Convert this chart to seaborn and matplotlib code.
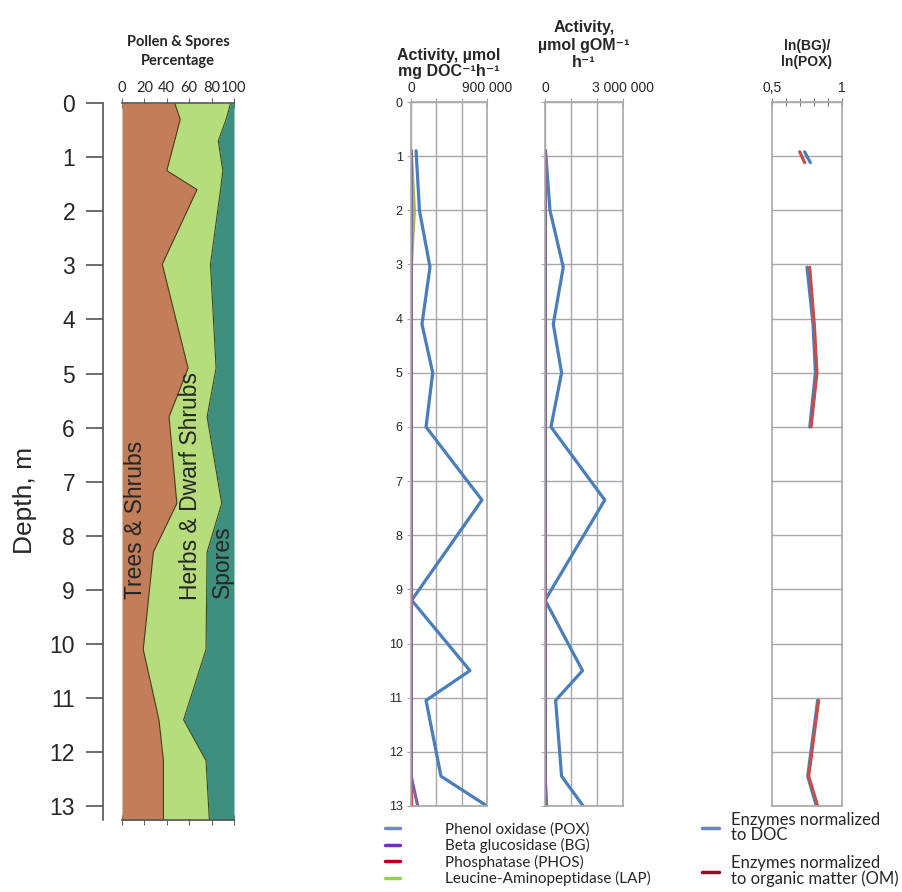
import numpy as np
import pandas as pd
import matplotlib
matplotlib.use("Agg")
import matplotlib.pyplot as plt
from matplotlib.lines import Line2D
import seaborn as sns

# ─────────────────────────────────────────
# DATA
# ─────────────────────────────────────────
# pollen diagram, percent per group
pollen_depth = [0, 0.3, 0.7, 1.25, 1.6, 2.98, 4.9, 5.8, 7.4, 8.3, 10.1, 11.4, 12.15, 13.25]
trees_pct    = [47, 52, 47, 40, 67, 36, 59, 42, 49, 28, 19, 33, 37, 37]
herbs_pct    = [50, 41, 39, 50, 21, 43, 25, 34, 40, 48, 56, 22, 38, 41]
spores_pct   = [3, 7, 14, 10, 12, 21, 16, 24, 11, 24, 25, 45, 25, 22]

# enzyme activities
enz_depth = [0.9, 2.0, 3.05, 4.1, 5.0, 6.0, 7.35, 9.2, 10.5, 11.05, 12.45, 13.0]
pox_doc  = [60000, 100000, 225000, 130000, 257000, 178000, 840000, 8000, 698000, 178000, 355000, 900000]
bg_doc   = [3000, 3000, 2000, 2000, 2000, 2000, 2000, 1000, 2000, 2000, 2000, 80000]
phos_doc = [1000, 1000, 1000, 1000, 1000, 1000, 1000, 1000, 1000, 1000, 2000, 8000]
lap_doc  = [3000, 40000, 3000, 2000, 2000, 1000, 1000, 1000, 1000, 1000, 1000, 1000]

pox_om  = [20000, 191000, 702000, 319000, 638000, 230000, 2298000, 5000, 1443000, 408000, 638000, 1468000]
bg_om   = [12000, 10000, 10000, 10000, 10000, 10000, 10000, 8000, 10000, 10000, 10000, 25000]
phos_om = [5000, 5000, 5000, 5000, 5000, 5000, 5000, 5000, 5000, 5000, 8000, 60000]
lap_om  = [8000, 8000, 8000, 8000, 8000, 8000, 8000, 8000, 8000, 8000, 8000, 8000]

# ln(BG)/ln(POX), three separate sections
ratio_depth   = [0.92, 1.12, 3.05, 4.1, 5.0, 6.0, 11.05, 12.45, 13.0]
ratio_section = [1, 1, 2, 2, 2, 2, 3, 3, 3]
ratio_doc     = [0.733, 0.774, 0.750, 0.793, 0.810, 0.770, 0.826, 0.755, 0.817]
ratio_om      = [0.698, 0.733, 0.769, 0.802, 0.821, 0.779, 0.833, 0.762, 0.826]

enzyme_labels = ["Phenol oxidase (POX)", "Beta glucosidase (BG)",
                 "Phosphatase (PHOS)", "Leucine-Aminopeptidase (LAP)"]
norm_labels = ["Enzymes normalized\nto DOC", "Enzymes normalized\nto organic matter (OM)"]

# ─────────────────────────────────────────
# STYLE
# ─────────────────────────────────────────
sns.set_style("ticks")
plt.rcParams["font.family"] = ["Liberation Sans", "DejaVu Sans"]
CALIBRI_LIKE = ["Lato", "DejaVu Sans"]

C_TREES, C_HERBS, C_SPORES = "#c27d59", "#b6dd7b", "#3f8f7f"
C_POX, C_BG, C_PHOS, C_LAP = "#4a7ebb", "#8064a2", "#c0504d", "#9bbb59"
GRID = "#a8a8a8"
PX = 0.72  # points per pixel at dpi 100

W, H = 902, 892
fig = plt.figure(figsize=(W / 100, H / 100), dpi=100)


def box(x0, y0, x1, y1):
    return [x0 / W, 1 - y1 / H, (x1 - x0) / W, (y1 - y0) / H]


# ─────────────────────────────────────────
# 1. POLLEN PANEL
# ─────────────────────────────────────────
ax_p = fig.add_axes(box(122, 103, 234, 820))
tr = np.array(trees_pct)
th = tr + np.array(herbs_pct)
ts = th + np.array(spores_pct)
ax_p.fill_betweenx(pollen_depth, 0, tr, color=C_TREES, lw=0)
ax_p.fill_betweenx(pollen_depth, tr, th, color=C_HERBS, lw=0)
ax_p.fill_betweenx(pollen_depth, th, ts, color=C_SPORES, lw=0)
sns.lineplot(x=tr, y=pollen_depth, orient="y", ax=ax_p, color="#4a3a20", lw=0.8)
sns.lineplot(x=th, y=pollen_depth, orient="y", ax=ax_p, color="#3a4a20", lw=0.8)

ax_p.set_xlim(0, 100)
ax_p.set_ylim(13.25, 0)
ax_p.xaxis.tick_top()
ax_p.set_xticks(range(0, 101, 20))
ax_p.tick_params(axis="x", which="both", top=True, bottom=True, labelbottom=False,
                 direction="inout", length=7, color="#666666", labelsize=10.5, pad=2)
for lbl in ax_p.get_xticklabels():
    lbl.set_family(CALIBRI_LIKE)
ax_p.set_yticks(range(0, 14))
ax_p.tick_params(axis="y", length=17 * PX, width=1.2, color="#555555", labelsize=16.5,
                 pad=11 * PX)
ax_p.spines["left"].set_position(("outward", 19 * PX))
for s in ["left", "top", "bottom"]:
    ax_p.spines[s].set_color("#555555")
    ax_p.spines[s].set_linewidth(1.2)
ax_p.spines["right"].set_visible(False)
ax_p.set_xlabel("")
ax_p.set_ylabel("Depth, m", fontsize=19)
ax_p.yaxis.set_label_coords(-0.76, 0.446)
ax_p.set_title("Pollen & Spores\nPercentage", fontsize=10.5, fontweight="bold", pad=27,
               linespacing=1.5, family=CALIBRI_LIKE)

ax_p.text(12.5, 7.70, "Trees & Shrubs", rotation=90, ha="center", va="center", fontsize=16.5)
ax_p.text(61, 7.07, "Herbs & Dwarf Shrubs", rotation=90, ha="center", va="center", fontsize=16.5)
ax_p.text(90, 8.48, "Spores", rotation=90, ha="center", va="center", fontsize=16.5)


# ─────────────────────────────────────────
# 2. ENZYME PANELS
# ─────────────────────────────────────────
def enzyme_panel(rect, series, xmax, xlabel_right, title, show_depth, title_pad, spacing):
    ax = fig.add_axes(rect)
    for vals, col in series:
        sns.lineplot(x=vals, y=enz_depth, orient="y", ax=ax, color=col, lw=2.3)
    ax.set_xlim(0, xmax)
    ax.set_ylim(13, 0)
    ax.xaxis.tick_top()
    ax.set_xticks(np.linspace(0, xmax, 4))
    ax.set_xticklabels(["0", "", "", xlabel_right])
    ax.set_yticks(range(0, 14))
    ax.grid(True, color=GRID, lw=1)
    ax.tick_params(axis="x", direction="inout", length=6, color=GRID, labelsize=10, pad=2)
    ax.tick_params(axis="y", direction="inout", length=6, color=GRID, labelsize=9,
                   labelleft=show_depth, pad=3)
    for s in ax.spines.values():
        s.set_color(GRID)
        s.set_linewidth(1.2)
    ax.set_xlabel("")
    ax.set_ylabel("")
    ax.set_title(title, fontsize=11.5, fontweight="bold", pad=title_pad, linespacing=spacing)
    return ax


doc_series = [(pox_doc, C_POX), (lap_doc, C_LAP), (phos_doc, C_PHOS), (bg_doc, C_BG)]
om_series = [(pox_om, C_POX), (lap_om, C_LAP), (phos_om, C_PHOS), (bg_om, C_BG)]

ax_doc = enzyme_panel(box(411, 102, 487, 806), doc_series, 900000, "900 000",
                      "Activity, µmol\nmg DOC⁻¹h⁻¹", True, 19, 1.05)
ax_om = enzyme_panel(box(545, 102, 623, 806), om_series, 3000000, "3 000 000",
                     "Activity,\nµmol gOM⁻¹\nh⁻¹", False, 25, 1.2)

# ─────────────────────────────────────────
# 3. RATIO PANEL
# ─────────────────────────────────────────
ratio_df = pd.DataFrame({"depth": ratio_depth, "section": ratio_section,
                         "doc": ratio_doc, "om": ratio_om})
ax_r = fig.add_axes(box(772, 102, 842, 806))
sns.lineplot(data=ratio_df, x="doc", y="depth", units="section", estimator=None,
             orient="y", ax=ax_r, color=C_POX, lw=2.3)
sns.lineplot(data=ratio_df, x="om", y="depth", units="section", estimator=None,
             orient="y", ax=ax_r, color=C_PHOS, lw=2.3)
ax_r.set_xlim(0.5, 1)
ax_r.set_ylim(13, 0)
ax_r.xaxis.tick_top()
ax_r.set_xticks(np.linspace(0.5, 1, 6))
ax_r.set_xticklabels(["0,5", "", "", "", "", "1"])
ax_r.set_yticks(range(0, 14))
ax_r.yaxis.grid(True, color=GRID, lw=1)
ax_r.tick_params(axis="x", direction="inout", length=6, color="#777777", labelsize=10, pad=2)
ax_r.tick_params(axis="y", length=0, labelleft=False)
for s in ax_r.spines.values():
    s.set_color(GRID)
    s.set_linewidth(1.2)
ax_r.set_xlabel("")
ax_r.set_ylabel("")
ax_r.set_title("ln(BG)/\nln(POX)", fontsize=10, fontweight="bold", pad=26, linespacing=1.2)

# ─────────────────────────────────────────
# 4. LEGENDS
# ─────────────────────────────────────────
leg_cols = ["#7383e2", "#7034a8", "#b00028", "#93d15a"]
h1 = [Line2D([], [], color=c, lw=2.5) for c in leg_cols]
fig.legend(h1, enzyme_labels, loc="upper left", bbox_to_anchor=(385 / W, 1 - 822 / H),
           frameon=False, handlelength=1.0, handletextpad=2.9,
           labelspacing=0.1, borderpad=0, borderaxespad=0,
           prop={"family": CALIBRI_LIKE, "size": 11})

h2 = [Line2D([], [], color=c, lw=2.5) for c in ["#6b7fe0", "#a00020"]]
leg2 = fig.legend(h2, norm_labels, loc="upper left", bbox_to_anchor=(702 / W, 1 - 812 / H),
                  frameon=False, handlelength=1.0, handletextpad=0.75,
                  labelspacing=0.7, borderpad=0, borderaxespad=0,
                  prop={"family": CALIBRI_LIKE, "size": 12})
for t in leg2.get_texts():
    t.set_linespacing(0.95)

fig.savefig("out.png", dpi=100)
